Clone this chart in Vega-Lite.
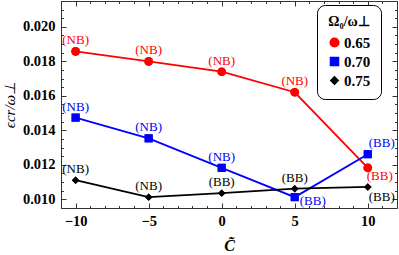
{
  "$schema": "https://vega.github.io/schema/vega-lite/v6.json",
  "width": 336,
  "height": 207,
  "autosize": {"type": "none"},
  "padding": {"left": 61, "top": 1, "right": 2, "bottom": 47},
  "background": "white",
  "config": {
    "view": {"stroke": "#333", "strokeWidth": 1},
    "font": "Liberation Serif",
    "axis": {"grid": false, "domain": false, "tickColor": "#333", "tickWidth": 1, "labelFont": "Liberation Serif", "labelFontWeight": "bold", "labelFontSize": 14.5, "labelColor": "black"}
  },
  "data": {
    "values": [
      {"c": -10, "eps": 0.01858, "omega": "0.65", "label": "(NB)"},
      {"c": -5, "eps": 0.0180, "omega": "0.65", "label": "(NB)"},
      {"c": 0, "eps": 0.0174, "omega": "0.65", "label": "(NB)"},
      {"c": 5, "eps": 0.01621, "omega": "0.65", "label": "(NB)"},
      {"c": 10, "eps": 0.01183, "omega": "0.65", "label": "(BB)"},
      {"c": -10, "eps": 0.01474, "omega": "0.70", "label": "(NB)"},
      {"c": -5, "eps": 0.01354, "omega": "0.70", "label": "(NB)"},
      {"c": 0, "eps": 0.01183, "omega": "0.70", "label": "(NB)"},
      {"c": 5, "eps": 0.01013, "omega": "0.70", "label": "(BB)"},
      {"c": 10, "eps": 0.01262, "omega": "0.70", "label": "(BB)"},
      {"c": -10, "eps": 0.01111, "omega": "0.75", "label": "(NB)"},
      {"c": -5, "eps": 0.01013, "omega": "0.75", "label": "(NB)"},
      {"c": 0, "eps": 0.01036, "omega": "0.75", "label": "(BB)"},
      {"c": 5, "eps": 0.01062, "omega": "0.75", "label": "(BB)"},
      {"c": 10, "eps": 0.01072, "omega": "0.75", "label": "(BB)"}
    ]
  },
  "encoding": {
    "x": {"field": "c", "type": "quantitative", "scale": {"domain": [-11, 12], "nice": false, "zero": false}},
    "y": {"field": "eps", "type": "quantitative", "scale": {"domain": [0.0095, 0.0215], "nice": false, "zero": false}},
    "color": {"field": "omega", "type": "nominal", "scale": {"domain": ["0.65", "0.70", "0.75"], "range": ["#ff0000", "#0000ff", "#000000"]}}
  },
  "layer": [
    {
      "mark": {"type": "point", "filled": true, "opacity": 1},
      "encoding": {
        "x": {"field": "c", "type": "quantitative", "axis": {"orient": "top", "values": [-10, -5, 0, 5, 10], "offset": -5, "tickSize": 5, "labels": false, "title": null}},
        "y": {"field": "eps", "type": "quantitative", "axis": {"orient": "right", "values": [0.010, 0.012, 0.014, 0.016, 0.018, 0.020], "offset": -5, "tickSize": 5, "labels": false, "title": null}},
        "shape": {"field": "omega", "type": "nominal", "scale": {"domain": ["0.65", "0.70", "0.75"], "range": ["circle", "square", "diamond"]}},
        "size": {"field": "omega", "type": "nominal", "scale": {"domain": ["0.65", "0.70", "0.75"], "range": [75, 55, 120]}, "legend": null},
        "color": {
          "field": "omega", "type": "nominal",
          "legend": {
            "title": "Ω₀/ω⊥",
            "orient": "none",
            "legendX": 256,
            "legendY": 4,
            "titleFont": "Liberation Serif",
            "titleFontSize": 14,
            "titleFontWeight": "bold",
            "titleColor": "black",
            "titleAnchor": "middle",
            "titlePadding": 6,
            "labelFont": "Liberation Serif",
            "labelFontSize": 15,
            "labelFontWeight": "bold",
            "labelColor": "black",
            "labelOffset": 2,
            "symbolSize": 576,
            "rowPadding": 3,
            "padding": 10,
            "strokeColor": "black",
            "cornerRadius": 8,
            "fillColor": "white",
            "encode": {
              "symbols": {
                "shape": {"value": {"expr": "datum.value === '0.65' ? 'M-1,-0.07H-0.3V0.07H-1Z M0.3,-0.07H1V0.07H0.3Z M-0.33,0A0.33,0.33,0,1,1,0.33,0A0.33,0.33,0,1,1,-0.33,0Z' : datum.value === '0.70' ? 'M-1,-0.07H-0.28V0.07H-1Z M0.28,-0.07H1V0.07H0.28Z M-0.28,-0.28H0.28V0.28H-0.28Z' : 'M-1,-0.07H-0.25V0.07H-1Z M0.25,-0.07H1V0.07H0.25Z M0,-0.36L0.36,0L0,0.36L-0.36,0Z'"}}
              }
            }
          }
        }
      }
    },
    {
      "mark": {"type": "line", "strokeWidth": 1.8},
      "encoding": {
        "x": {"field": "c", "type": "quantitative", "axis": {"orient": "bottom", "values": [-10, -5, 0, 5, 10], "offset": -5, "tickSize": 5, "labelPadding": 6, "title": "C̃", "titleFont": "Liberation Serif", "titleFontStyle": "italic", "titleFontWeight": "bold", "titleFontSize": 16, "titlePadding": 10}},
        "y": {"field": "eps", "type": "quantitative", "axis": {"orient": "left", "values": [0.010, 0.012, 0.014, 0.016, 0.018, 0.020], "format": ".3f", "offset": -5, "tickSize": 5, "labelPadding": 6, "title": "ϵcr/ω⊥", "titleFont": "Liberation Serif", "titleFontStyle": "italic", "titleFontWeight": "normal", "titleFontSize": 15, "titlePadding": 5}}
      }
    },
    {
      "mark": {"type": "point", "filled": true, "opacity": 1},
      "encoding": {
        "x": {"field": "c", "type": "quantitative", "axis": null},
        "y": {"field": "eps", "type": "quantitative", "axis": null},
        "shape": {"field": "omega", "type": "nominal"},
        "size": {"field": "omega", "type": "nominal", "legend": null}
      }
    },
    {
      "transform": [{"filter": "datum.c < 10 && !(datum.omega === '0.70' && datum.c === 5)"}],
      "mark": {"type": "text", "dy": -11, "fontSize": 13, "font": "Liberation Serif"},
      "encoding": {
        "x": {"field": "c", "type": "quantitative", "axis": {"orient": "bottom", "values": [-11, -9, -8, -7, -6, -4, -3, -2, -1, 1, 2, 3, 4, 6, 7, 8, 9, 11, 12], "offset": -2.5, "tickSize": 2.5, "labels": false, "title": null}},
        "y": {"field": "eps", "type": "quantitative", "axis": {"orient": "left", "values": [0.0095, 0.0105, 0.011, 0.0115, 0.0125, 0.013, 0.0135, 0.0145, 0.015, 0.0155, 0.0165, 0.017, 0.0175, 0.0185, 0.019, 0.0195, 0.0205, 0.021, 0.0215], "offset": -2.5, "tickSize": 2.5, "labels": false, "title": null}},
        "text": {"field": "label"}
      }
    },
    {
      "transform": [{"filter": "datum.omega === '0.70' && datum.c === 5"}],
      "mark": {"type": "text", "dx": 18, "dy": 4, "fontSize": 13, "font": "Liberation Serif"},
      "encoding": {
        "x": {"field": "c", "type": "quantitative", "axis": {"orient": "top", "values": [-11, -9, -8, -7, -6, -4, -3, -2, -1, 1, 2, 3, 4, 6, 7, 8, 9, 11, 12], "offset": -2.5, "tickSize": 2.5, "labels": false, "title": null}},
        "y": {"field": "eps", "type": "quantitative", "axis": {"orient": "right", "values": [0.0095, 0.0105, 0.011, 0.0115, 0.0125, 0.013, 0.0135, 0.0145, 0.015, 0.0155, 0.0165, 0.017, 0.0175, 0.0185, 0.019, 0.0195, 0.0205, 0.021, 0.0215], "offset": -2.5, "tickSize": 2.5, "labels": false, "title": null}},
        "text": {"field": "label"}
      }
    },
    {
      "transform": [{"filter": "datum.omega === '0.65' && datum.c === 10"}],
      "mark": {"type": "text", "dx": 12, "dy": 8, "fontSize": 13, "font": "Liberation Serif"},
      "encoding": {
        "x": {"field": "c", "type": "quantitative", "axis": null},
        "y": {"field": "eps", "type": "quantitative", "axis": null},
        "text": {"field": "label"}
      }
    },
    {
      "transform": [{"filter": "datum.omega === '0.70' && datum.c === 10"}],
      "mark": {"type": "text", "dx": 14, "dy": -11, "fontSize": 13, "font": "Liberation Serif"},
      "encoding": {
        "x": {"field": "c", "type": "quantitative", "axis": null},
        "y": {"field": "eps", "type": "quantitative", "axis": null},
        "text": {"field": "label"}
      }
    },
    {
      "transform": [{"filter": "datum.omega === '0.75' && datum.c === 10"}],
      "mark": {"type": "text", "dx": 14, "dy": 10, "fontSize": 13, "font": "Liberation Serif"},
      "encoding": {
        "x": {"field": "c", "type": "quantitative", "axis": null},
        "y": {"field": "eps", "type": "quantitative", "axis": null},
        "text": {"field": "label"}
      }
    }
  ],
  "resolve": {"axis": {"x": "independent", "y": "independent"}}
}
